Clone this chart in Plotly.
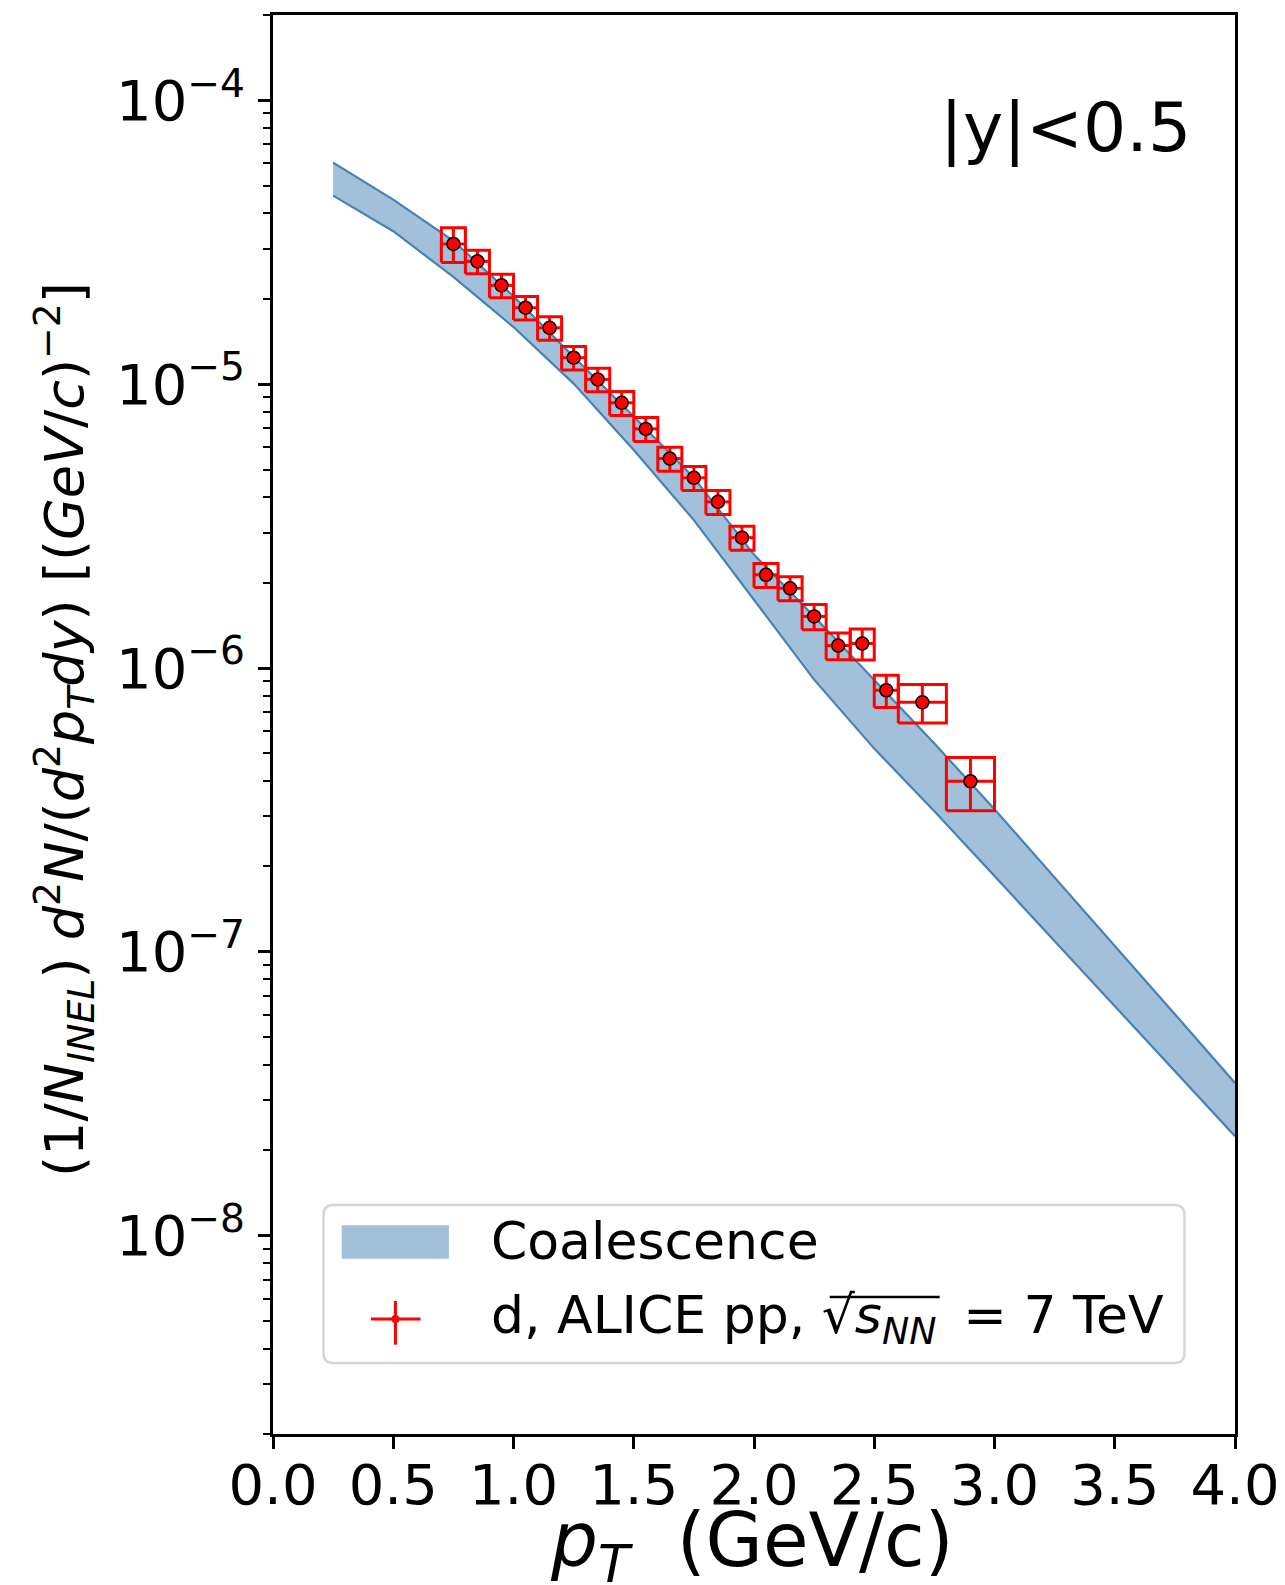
import plotly.graph_objects as go

# ---------------- data ----------------
# Coalescence band (pT grid, lower / upper edges)
band_pt = [0.25, 0.5, 0.75, 1.0, 1.25, 1.5, 1.75, 2.0, 2.25, 2.5, 2.75, 3.0, 3.25, 3.5, 3.75, 4.0]
band_lo = [4.62e-5, 3.46e-5, 2.39e-5, 1.59e-5, 1.005e-5, 5.86e-6, 3.32e-6, 1.73e-6, 9.1e-7,
           5.2e-7, 3.13e-7, 1.85e-7, 1.09e-7, 6.46e-8, 3.8e-8, 2.24e-8]
band_hi = [6.04e-5, 4.47e-5, 3.2e-5, 2.04e-5, 1.25e-5, 7.7e-6, 4.68e-6, 2.51e-6, 1.52e-6,
           9.06e-7, 5.42e-7, 3.18e-7, 1.83e-7, 1.05e-7, 6.03e-8, 3.45e-8]

# ALICE deuteron data, pp 7 TeV
d_pt = [0.75, 0.85, 0.95, 1.05, 1.15, 1.25, 1.35, 1.45, 1.55, 1.65, 1.75, 1.85, 1.95,
        2.05, 2.15, 2.25, 2.35, 2.45, 2.55, 2.7, 2.9]
d_yield = [3.12e-5, 2.71e-5, 2.23e-5, 1.86e-5, 1.58e-5, 1.24e-5, 1.04e-5, 8.6e-6, 6.96e-6,
           5.47e-6, 4.68e-6, 3.85e-6, 2.88e-6, 2.13e-6, 1.91e-6, 1.52e-6, 1.20e-6, 1.22e-6,
           8.35e-7, 7.57e-7, 3.99e-7]
d_pt_halfwidth = [0.05] * 19 + [0.1, 0.1]
d_rel_err = [0.14, 0.095, 0.095, 0.095, 0.095, 0.095, 0.095, 0.097, 0.097, 0.097, 0.097,
             0.097, 0.097, 0.097, 0.097, 0.102, 0.108, 0.125, 0.13, 0.155, 0.213]

y_tickvals = [1e-8, 1e-7, 1e-6, 1e-5, 1e-4]
y_ticktext = ["10<sup>\u22128</sup>", "10<sup>\u22127</sup>", "10<sup>\u22126</sup>",
              "10<sup>\u22125</sup>", "10<sup>\u22124</sup>"]
x_tickvals = [0.0, 0.5, 1.0, 1.5, 2.0, 2.5, 3.0, 3.5, 4.0]

# ---------------- styling ----------------
FONT = "DejaVu Sans"
STEEL = "#4682b4"
BAND_FILL = "rgba(70,130,180,0.5)"
W, H = 1285, 1585
PX_L, PX_R, PX_T, PX_B = 273, 1235.5, 15.2, 1434


def px_x(x):
    return (x - PX_L) / (PX_R - PX_L)


def px_y(y):
    return (PX_B - y) / (PX_B - PX_T)


d_err = [y * r for y, r in zip(d_yield, d_rel_err)]

# rectangles for systematic boxes
box_x, box_y = [], []
for x, y, hw, e in zip(d_pt, d_yield, d_pt_halfwidth, d_err):
    box_x += [x - hw, x + hw, x + hw, x - hw, x - hw, None]
    box_y += [y - e, y - e, y + e, y + e, y - e, None]

fig = go.Figure()

fig.add_trace(go.Scatter(x=band_pt, y=band_lo, mode="lines",
                         line=dict(color=STEEL, width=2.2), showlegend=False, hoverinfo="skip"))
fig.add_trace(go.Scatter(x=band_pt, y=band_hi, mode="lines", fill="tonexty",
                         fillcolor=BAND_FILL, line=dict(color=STEEL, width=2.2),
                         showlegend=False, hoverinfo="skip"))

fig.add_trace(go.Scatter(x=box_x, y=box_y, mode="lines",
                         line=dict(color="#ff0000", width=3), showlegend=False, hoverinfo="skip"))

fig.add_trace(go.Scatter(
    x=d_pt, y=d_yield, mode="markers",
    marker=dict(color="#ff0000", size=13, line=dict(color="black", width=1.5)),
    error_y=dict(type="data", array=d_err, color="#ff0000", thickness=3, width=0),
    error_x=dict(type="data", array=d_pt_halfwidth, color="#ff0000", thickness=3, width=0),
    showlegend=False))

axis_common = dict(showline=True, linecolor="black", linewidth=2.5, mirror=True,
                   ticks="outside", ticklen=12, tickwidth=2.5, tickcolor="black",
                   showgrid=False, zeroline=False, automargin=False,
                   tickfont=dict(family=FONT, size=56, color="black"))

fig.update_xaxes(range=[0, 4], tickvals=x_tickvals,
                 ticktext=[f"{v:.1f}" for v in x_tickvals], ticklabelstandoff=-12, **axis_common)
fig.update_yaxes(type="log", range=[-8.699, -3.699], tickvals=y_tickvals, ticktext=y_ticktext,
                 minor=dict(ticks="outside", ticklen=7, tickwidth=2, tickcolor="black", dtick="D1"),
                 ticklabelstandoff=2, **axis_common)

annotations = [
    dict(text="|y|<0.5", x=px_x(1193), y=px_y(128), xref="paper", yref="paper",
         xanchor="right", yanchor="middle", showarrow=False,
         font=dict(family=FONT, size=68, color="black")),
    dict(text="<i>p</i><sub><i>T</i></sub>  (GeV/c)", x=px_x(752), y=px_y(1545),
         xref="paper", yref="paper", xanchor="center", yanchor="middle", showarrow=False,
         font=dict(family=FONT, size=74, color="black")),
    dict(text="(1/<i>N</i><sub><i>INEL</i></sub>) <i>d</i><sup>2</sup><i>N</i>/(<i>d</i><sup>2</sup>"
              "<i>p</i><sub><i>T</i></sub><i>dy</i>) [(<i>GeV</i>/<i>c</i>)<sup>\u22122</sup>]",
         x=px_x(64), y=px_y(730), xref="paper", yref="paper", textangle=-90,
         xanchor="center", yanchor="middle", showarrow=False,
         font=dict(family=FONT, size=54, color="black")),
    dict(text="Coalescence", x=px_x(489), y=px_y(1241.5), xref="paper", yref="paper",
         xanchor="left", yanchor="middle", showarrow=False,
         font=dict(family=FONT, size=52, color="black")),
    dict(text="d, ALICE pp, \u221a<i>s</i><sub><i>NN</i></sub>\u2009 = 7 TeV", x=px_x(489), y=px_y(1319),
         xref="paper", yref="paper", xanchor="left", yanchor="middle", showarrow=False,
         font=dict(family=FONT, size=52, color="black")),
]

# legend frame (rounded)
x0, x1, y0, y1, r = px_x(323.5), px_x(1185), px_y(1205), px_y(1363), 10
rx = r / (PX_R - PX_L)
ry = r / (PX_B - PX_T)
path = (f"M {x0+rx},{y0} L {x1-rx},{y0} Q {x1},{y0} {x1},{y0-ry} L {x1},{y1+ry} "
        f"Q {x1},{y1} {x1-rx},{y1} L {x0+rx},{y1} Q {x0},{y1} {x0},{y1+ry} L {x0},{y0-ry} "
        f"Q {x0},{y0} {x0+rx},{y0} Z")
shapes = [
    dict(type="path", path=path, xref="paper", yref="paper", fillcolor="white",
         line=dict(color="#d6d6d6", width=2.5), layer="above"),
    dict(type="rect", x0=px_x(341.7), x1=px_x(449), y0=px_y(1225.4), y1=px_y(1258.7),
         xref="paper", yref="paper", fillcolor=BAND_FILL, line=dict(width=0), layer="above"),
    dict(type="line", x0=px_x(371), x1=px_x(420.6), y0=px_y(1319), y1=px_y(1319),
         xref="paper", yref="paper", line=dict(color="#ff0000", width=3), layer="above"),
    dict(type="line", x0=px_x(395.5), x1=px_x(395.5), y0=px_y(1301), y1=px_y(1344.7),
         xref="paper", yref="paper", line=dict(color="#ff0000", width=3), layer="above"),
    dict(type="circle", x0=px_x(391.5), x1=px_x(399.5), y0=px_y(1315), y1=px_y(1323),
         xref="paper", yref="paper", fillcolor="#ff0000", line=dict(width=0), layer="above"),
    # overline of the square root
    dict(type="line", x0=px_x(830), x1=px_x(940), y0=px_y(1297), y1=px_y(1297),
         xref="paper", yref="paper", line=dict(color="black", width=2.5), layer="above"),
]

fig.update_layout(width=W, height=H, paper_bgcolor="white", plot_bgcolor="white",
                  margin=dict(l=PX_L, r=W - PX_R, t=PX_T, b=H - PX_B),
                  annotations=annotations, shapes=shapes, showlegend=False,
                  font=dict(family=FONT, color="black"))

fig.write_html("out.html")
